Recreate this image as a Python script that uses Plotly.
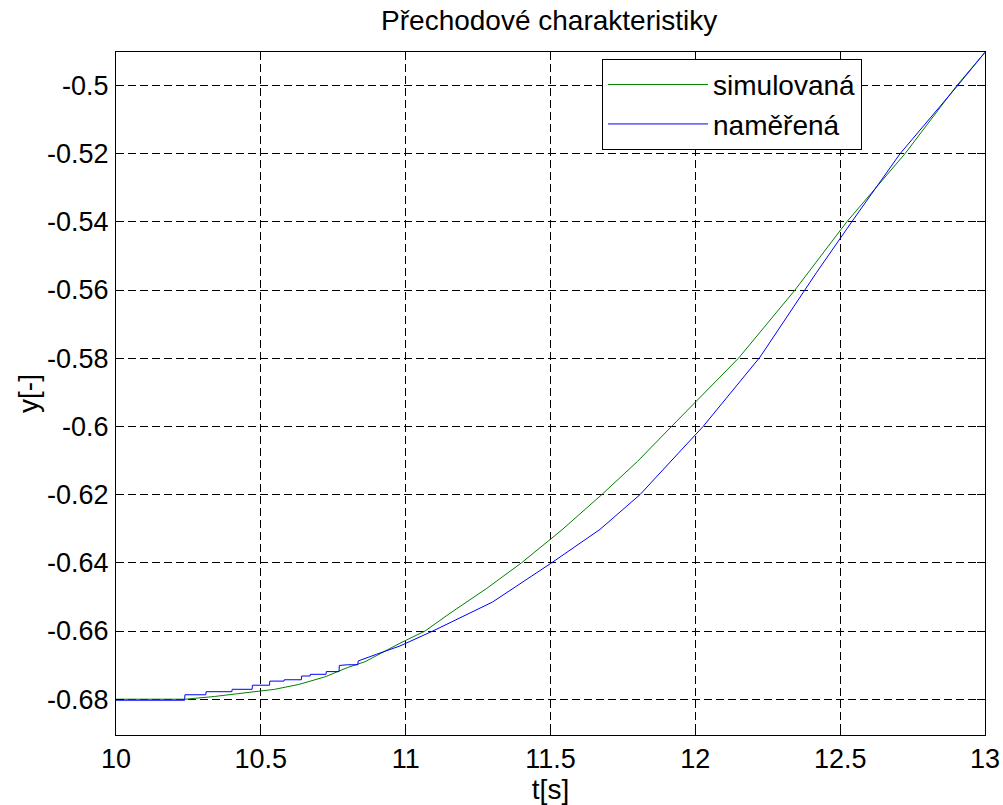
import plotly.graph_objects as go

# ---- data ----
sim_t = [10.0, 10.24, 10.34, 10.40, 10.455, 10.5, 10.548, 10.63, 10.72, 10.80, 10.86, 10.98, 11.067,
         11.153, 11.28, 11.40, 11.54, 11.677, 11.80, 11.918, 12.149, 12.344, 12.523,
         12.724, 12.903, 13.0]
sim_y = [-0.6800, -0.6800, -0.6792, -0.6786, -0.6779, -0.6775, -0.6771, -0.6757, -0.6735, -0.6707, -0.6690, -0.6636, -0.6600,
         -0.6548, -0.6475, -0.6400, -0.6303, -0.6200, -0.6103, -0.6000, -0.5800, -0.5600, -0.5400,
         -0.5200, -0.5000, -0.4903]

mer_t = [10.0, 10.237, 10.238, 10.31, 10.311, 10.40, 10.401, 10.47, 10.471, 10.53, 10.531,
         10.58, 10.581, 10.64, 10.641, 10.67, 10.671, 10.725, 10.726, 10.77, 10.771,
         10.80, 10.835, 10.836, 10.9, 10.98, 11.094, 11.30, 11.504, 11.671, 11.809,
         12.027, 12.223, 12.35, 12.419, 12.540, 12.707, 12.906, 13.0]
mer_y = [-0.6803, -0.6803, -0.6787, -0.6787, -0.6778, -0.6778, -0.6771, -0.6771, -0.6759, -0.6759, -0.6747,
         -0.6747, -0.6743, -0.6743, -0.6732, -0.6732, -0.6727, -0.6727, -0.6719, -0.6719, -0.6701,
         -0.6699, -0.6699, -0.6688, -0.6668, -0.6644, -0.6600, -0.6515, -0.6400, -0.6302, -0.6200,
         -0.6000, -0.5797, -0.5636, -0.5548, -0.5400, -0.5200, -0.5000, -0.4903]

x_ticks = [10, 10.5, 11, 11.5, 12, 12.5, 13]
x_tick_text = ["10", "10.5", "11", "11.5", "12", "12.5", "13"]
y_ticks = [-0.68, -0.66, -0.64, -0.62, -0.60, -0.58, -0.56, -0.54, -0.52, -0.50]
y_tick_text = ["-0.68", "-0.66", "-0.64", "-0.62", "-0.6", "-0.58", "-0.56", "-0.54", "-0.52", "-0.5"]

FONT = "Liberation Sans, Arial, sans-serif"
TICK_SIZE = 27
TEXT_SIZE = 28

fig = go.Figure()
fig.add_trace(go.Scatter(x=sim_t, y=sim_y, mode="lines", name="simulovaná",
                         line=dict(color="#008000", width=1)))
fig.add_trace(go.Scatter(x=mer_t, y=mer_y, mode="lines", name="naměřená",
                         line=dict(color="#0000ff", width=1)))

axis_common = dict(
    showline=True, linecolor="black", linewidth=1, mirror="ticks",
    ticks="inside", ticklen=8, tickcolor="black", tickwidth=1,
    showgrid=True, gridcolor="black", gridwidth=1, griddash="8px,4px",
    zeroline=False, automargin=False,
    tickfont=dict(family=FONT, size=TICK_SIZE, color="black"),
)

fig.update_layout(
    width=1003, height=805,
    margin=dict(l=116, r=18, t=52, b=70),
    paper_bgcolor="white", plot_bgcolor="white",
    font=dict(family=FONT, size=TEXT_SIZE, color="black"),
    title=dict(text="Přechodové charakteristiky", x=0.5475, xanchor="center",
               y=0.975, yanchor="middle", font=dict(family=FONT, size=TEXT_SIZE, color="black")),
    xaxis=dict(range=[10, 13], tickvals=x_ticks, ticktext=x_tick_text,
               title=dict(text="t[s]", standoff=0, font=dict(family=FONT, size=TEXT_SIZE)),
               ticklabelstandoff=0, **axis_common),
    yaxis=dict(range=[-0.6905, -0.4902], tickvals=y_ticks, ticktext=y_tick_text,
               title=dict(text="y[-]", standoff=0, font=dict(family=FONT, size=TEXT_SIZE)),
               ticklabelstandoff=1, **axis_common),
    legend=dict(x=0.8585, xanchor="right", y=0.99, yanchor="top",
                bgcolor="white", bordercolor="black", borderwidth=1,
                font=dict(family=FONT, size=TEXT_SIZE, color="black"),
                itemwidth=100, tracegroupgap=0),
    showlegend=True,
)

fig.write_html("out.html")
